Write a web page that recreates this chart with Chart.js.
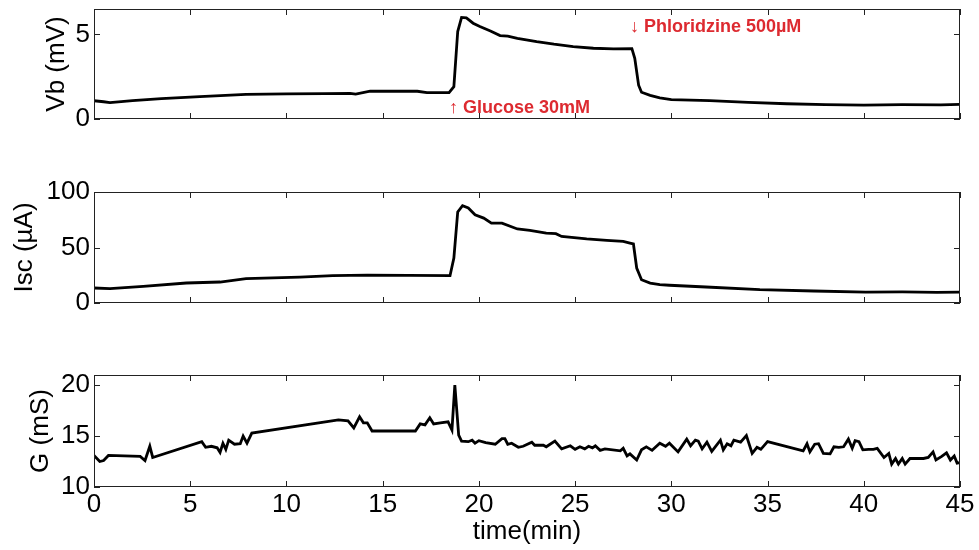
<!DOCTYPE html>
<html>
<head>
<meta charset="utf-8">
<script src="https://cdn.jsdelivr.net/npm/chart.js@4/dist/chart.umd.min.js"></script>
<style>
  body { margin: 0; background: #fff; }
  #wrap { position: relative; width: 979px; height: 550px; overflow: hidden; background: #fff; }
  canvas { position: absolute; left: 0; }
</style>
</head>
<body>
<div id="wrap">
  <canvas id="vb-chart" width="979" height="155" style="top:-15px"></canvas>
  <canvas id="isc-chart" width="979" height="155" style="top:170px"></canvas>
  <canvas id="g-chart" width="979" height="195" style="top:355px"></canvas>
</div>
<script>
"use strict";

// time axis (min)
const timeTicks = [0, 5, 10, 15, 20, 25, 30, 35, 40, 45];

// Vb (mV)
const vbTime = [0, 0.5, 0.83, 2, 3.5, 5.5, 7.9, 10, 12, 13.3,
  13.6, 14.35, 16.8, 17.3, 18.45, 18.7, 18.9, 19.1, 19.35, 19.7,
  20.05, 20.6, 21.1, 21.5, 22.0, 23.0, 23.9, 24.9, 25.95, 27.0,
  27.95, 28.1, 28.3, 28.45, 28.9, 29.4, 30, 32, 34, 36,
  38, 40, 42, 44, 45];
const vbValues = [1.08, 1.02, 0.97, 1.08, 1.2, 1.32, 1.46, 1.48, 1.5, 1.52,
  1.47, 1.64, 1.64, 1.56, 1.56, 1.91, 5.17, 6.0, 5.97, 5.66,
  5.46, 5.2, 4.93, 4.9, 4.77, 4.57, 4.42, 4.28, 4.18, 4.14,
  4.16, 3.59, 2.0, 1.58, 1.4, 1.25, 1.15, 1.08, 0.98, 0.9,
  0.85, 0.82, 0.85, 0.84, 0.86];
const vbTicks = [0, 5];

// Isc (uA)
const iscTime = [0, 0.83, 2.56, 4.8, 6.55, 7.9, 10.7, 12.4, 14.2, 18.5,
  18.7, 18.9, 19.15, 19.45, 19.8, 20.25, 20.65, 21.2, 22.0, 22.65,
  23.5, 24.0, 24.3, 25.6, 26.65, 27.5, 27.85, 28.03, 28.2, 28.45,
  28.9, 29.4, 29.9, 31.8, 34.6, 37.4, 40.1, 42, 43.8, 45];
const iscValues = [13.5, 12.9, 15.0, 18.0, 18.9, 21.9, 23.4, 24.6, 25.2, 24.6,
  40.5, 82, 87.6, 85.6, 79.5, 76.5, 72, 72, 66.7, 65.5,
  63, 62.5, 60, 57.7, 56.5, 55.5, 54, 53.2, 31.5, 21,
  18, 16.6, 16, 14.4, 12, 10.8, 9.8, 10, 9.5, 9.8];
const iscTicks = [0, 50, 100];

// G (mS)
const gTime = [0, 0.3, 0.5, 0.75, 2.4, 2.65, 2.9, 3.05, 5.6, 5.8,
  6.1, 6.4, 6.55, 6.7, 6.85, 7.0, 7.3, 7.6, 7.75, 7.95,
  8.2, 12.7, 13.2, 13.5, 13.8, 14.0, 14.2, 14.45, 16.7, 16.95,
  17.2, 17.45, 17.65, 18.0, 18.4, 18.6, 18.75, 18.95, 19.1, 19.45,
  19.65, 19.8, 20.0, 20.35, 20.85, 21.2, 21.35, 21.5, 21.7, 22.05,
  22.3, 22.75, 22.9, 23.35, 23.5, 23.95, 24.3, 24.75, 25.0, 25.25,
  25.5, 25.7, 25.9, 26.05, 26.3, 26.55, 27.35, 27.5, 27.7, 27.85,
  28.2, 28.45, 28.7, 29.0, 29.4, 29.7, 29.9, 30.35, 30.8, 31.0,
  31.25, 31.4, 31.6, 31.85, 32.1, 32.55, 32.7, 32.9, 33.1, 33.25,
  33.6, 33.9, 34.2, 34.45, 34.65, 35.0, 36.85, 37.05, 37.2, 37.45,
  37.65, 37.9, 38.25, 38.45, 38.7, 38.95, 39.2, 39.4, 39.55, 39.75,
  39.95, 40.25, 40.5, 40.7, 41.05, 41.3, 41.45, 41.65, 41.8, 42.0,
  42.15, 42.4, 43.1, 43.35, 43.6, 43.75, 44.05, 44.3, 44.5, 44.7,
  44.85, 45];
const gValues = [13.1, 12.5, 12.6, 13.1, 13.0, 12.6, 14.0, 12.9, 14.45, 13.9,
  14.0, 13.85, 13.4, 14.3, 13.7, 14.6, 14.2, 14.25, 15.0, 14.3,
  15.3, 16.6, 16.5, 15.8, 16.9, 16.3, 16.3, 15.5, 15.5, 16.2,
  16.1, 16.8, 16.2, 16.3, 16.4, 15.6, 20.0, 15.1, 14.5, 14.45,
  14.6, 14.3, 14.55, 14.35, 14.2, 14.75, 14.75, 14.2, 14.3, 13.9,
  14.0, 14.4, 14.1, 14.1, 13.95, 14.5, 13.75, 14.05, 13.7, 13.95,
  13.75, 14.0, 13.85, 14.05, 13.6, 13.75, 13.55, 13.8, 13.05, 13.25,
  12.65, 13.65, 13.95, 13.6, 14.3, 14.0, 14.3, 13.45, 14.7, 14.05,
  14.6, 14.5, 13.75, 14.4, 13.5, 14.6, 13.65, 14.25, 14.05, 14.6,
  14.4, 15.05, 13.3, 13.9, 13.7, 14.45, 13.55, 14.25, 13.45, 14.2,
  14.25, 13.3, 13.25, 13.95, 13.9, 13.95, 14.7, 13.8, 14.55, 14.45,
  13.65, 13.7, 13.7, 13.8, 12.9, 13.3, 12.25, 12.8, 12.25, 12.8,
  12.25, 12.8, 12.8, 12.9, 13.45, 12.65, 13.0, 13.35, 12.65, 13.05,
  12.35, 12.4];
const gTicks = [10, 15, 20];

// event labels on the Vb panel (time, mV)
const noteText = ["\u2191 Glucose 30mM", "\u2193 Phloridzine 500\u00b5M"];
const noteTime = [18.45, 27.85];
const noteLevel = [0.36, 5.13];

const FONT = "'Liberation Sans', Arial, Helvetica, sans-serif";

function toPoints(xs, ys) {
  const pts = [];
  for (let i = 0; i < xs.length; i++) {
    pts.push({ x: xs[i], y: ys[i] });
  }
  return pts;
}

// matlab style box with inward ticks on all four sides
const boxPlugin = {
  id: "box",
  afterDraw(chart, args, opts) {
    const ctx = chart.ctx;
    const a = chart.chartArea;
    const xs = chart.scales.x;
    const ys = chart.scales.y;
    const len = 6;
    ctx.save();
    ctx.strokeStyle = "#222";
    ctx.lineWidth = 1;
    ctx.beginPath();
    for (const t of timeTicks) {
      const px = Math.round(xs.getPixelForValue(t)) + 0.5;
      ctx.moveTo(px, a.top);
      ctx.lineTo(px, a.top + len);
      ctx.moveTo(px, a.bottom);
      ctx.lineTo(px, a.bottom - len);
    }
    for (const v of opts.yTicks) {
      const py = Math.round(ys.getPixelForValue(v)) + 0.5;
      ctx.moveTo(a.left, py);
      ctx.lineTo(a.left + len, py);
      ctx.moveTo(a.right, py);
      ctx.lineTo(a.right - len, py);
    }
    ctx.stroke();
    ctx.strokeRect(Math.round(a.left) + 0.5, Math.round(a.top) + 0.5,
      Math.round(a.width) - 1, Math.round(a.height) - 1);
    ctx.restore();
  }
};

// red event notes drawn in data coordinates
const notePlugin = {
  id: "notes",
  afterDraw(chart, args, opts) {
    if (!opts.show) return;
    const ctx = chart.ctx;
    ctx.save();
    ctx.fillStyle = "#dd2a30";
    ctx.font = "bold 18px " + FONT;
    ctx.textBaseline = "alphabetic";
    for (let i = 0; i < noteText.length; i++) {
      const px = chart.scales.x.getPixelForValue(noteTime[i]);
      const py = chart.scales.y.getPixelForValue(noteLevel[i]);
      ctx.fillText(noteText[i], px, py);
    }
    ctx.restore();
  }
};

function makePanel(id, xs, ys, yMin, yMax, yTicks, yTitle, titlePad, showTime, pad) {
  const ctx = document.getElementById(id);
  return new Chart(ctx, {
    type: "line",
    data: {
      datasets: [{
        data: toPoints(xs, ys),
        borderColor: "#000",
        borderWidth: 2.8,
        pointRadius: 0,
        tension: 0,
        fill: false,
      }],
    },
    options: {
      responsive: false,
      animation: false,
      events: [],
      layout: { padding: pad },
      plugins: {
        legend: { display: false },
        tooltip: { enabled: false },
        box: { yTicks: yTicks },
        notes: { show: id === "vb-chart" },
      },
      scales: {
        x: {
          type: "linear",
          min: 0,
          max: 45,
          display: showTime,
          afterBuildTicks: (s) => { s.ticks = timeTicks.map((v) => ({ value: v })); },
          afterFit: (s) => { if (showTime) s.height = 63; },
          grid: { display: false, drawTicks: false },
          border: { display: false },
          ticks: { color: "#000", font: { family: FONT, size: 26 }, padding: 2, maxRotation: 0, autoSkip: false },
          title: {
            display: showTime,
            text: "time(min)",
            color: "#000",
            font: { family: FONT, size: 26 },
            padding: { top: 0, bottom: 3 },
          },
        },
        y: {
          min: yMin,
          max: yMax,
          afterBuildTicks: (s) => { s.ticks = yTicks.map((v) => ({ value: v })); },
          afterFit: (s) => { s.width = 94; },
          grid: { display: false, drawTicks: false },
          border: { display: false },
          ticks: { color: "#000", font: { family: FONT, size: 26 }, padding: 4 },
          title: {
            display: true,
            text: yTitle,
            color: "#000",
            font: { family: FONT, size: 26 },
            padding: { top: titlePad, bottom: 0 },
          },
        },
      },
    },
    plugins: [boxPlugin, notePlugin],
  });
}

makePanel("vb-chart", vbTime, vbValues, 0, 6.5, vbTicks, "Vb (mV)", 41, false,
  { top: 24, bottom: 21, left: 0, right: 19 });
makePanel("isc-chart", iscTime, iscValues, 0, 100, iscTicks, "Isc (\u00b5A)", 9, false,
  { top: 22, bottom: 22, left: 0, right: 19 });
makePanel("g-chart", gTime, gValues, 10, 21, gTicks, "G (mS)", 25, true,
  { top: 20, bottom: 0, left: 0, right: 19 });
</script>
</body>
</html>
